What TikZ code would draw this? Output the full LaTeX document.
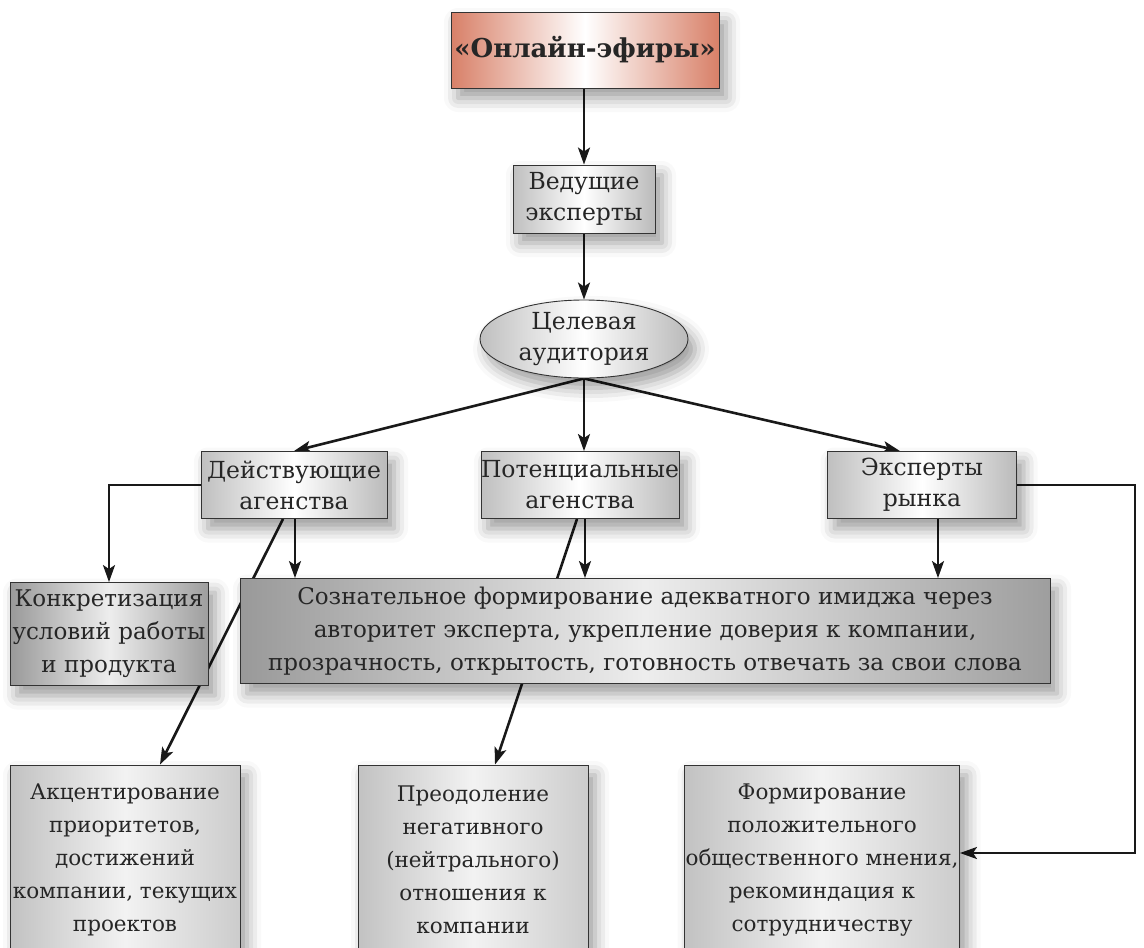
\documentclass[tikz,border=0pt]{standalone}
\usepackage{fontspec}
\setmainfont{DejaVu Serif}
\usetikzlibrary{arrows.meta,shapes.geometric,shadows.blur,calc}
\pgfdeclarelayer{bg}
\pgfsetlayers{bg,main}
\definecolor{salmon}{RGB}{216,128,104}
\begin{document}
\begin{tikzpicture}[x=1pt,y=-1pt,
  basebox/.style={draw=black!80, line width=0.9pt, align=center, inner xsep=0pt, inner ysep=1pt,
    font=\fontsize{23.5}{31}\selectfont, text=black!85,
    blur shadow={shadow xshift=7pt, shadow yshift=-10pt, shadow blur radius=14pt, shadow opacity=40}},
  graybox/.style={basebox, left color=black!25, right color=black!27, middle color=white},
  darkbox/.style={basebox, font=\fontsize{23}{33}\selectfont, left color=black!40, right color=black!38, middle color=black!7},
  lowbox/.style={basebox, font=\fontsize{21.5}{33}\selectfont, left color=black!24, right color=black!20, middle color=black!5},
  titlebox/.style={basebox, font=\fontsize{26}{32}\selectfont\bfseries, left color=salmon, right color=salmon, middle color=white},
  conn/.style={line width=2.6pt, draw=black!90},
  arr/.style={conn, -{Stealth[length=17pt,width=12pt,inset=4pt]}}
]
\useasboundingbox (0,0) rectangle (1144,948);

\node[titlebox, minimum width=268pt, minimum height=76pt] (top) at (585,50) {«Онлайн-эфиры»};
\node[graybox, minimum width=142pt, minimum height=68pt] (ved) at (584,199) {Ведущие\\эксперты};
\node[graybox, ellipse, minimum width=208pt, minimum height=78pt, inner sep=0pt] (ell) at (584,339) {Целевая\\аудитория};
\node[graybox, minimum width=186pt, minimum height=67pt] (deist) at (294,485) {Действующие\\агенства};
\node[graybox, minimum width=196pt, minimum height=67pt] (pot) at (580,485) {Потенциальные\\агенства};
\node[graybox, minimum width=189pt, minimum height=67pt] (eksp) at (922,485) {Эксперты\\рынка};
\node[darkbox, minimum width=198pt, minimum height=103pt] (konk) at (109,634) {Конкретизация\\условий работы\\и продукта};
\node[darkbox, minimum width=810pt, minimum height=105pt] (soz) at (645,631) {Сознательное формирование адекватного имиджа через\\авторитет эксперта, укрепление доверия к компании,\\прозрачность, открытость, готовность отвечать за свои слова};
\node[lowbox, minimum width=230pt, minimum height=190pt] (akc) at (125,860) {Акцентирование\\приоритетов,\\достижений\\компании, текущих\\проектов};
\node[lowbox, minimum width=230pt, minimum height=190pt] (pre) at (473,860) {Преодоление\\негативного\\(нейтрального)\\отношения к\\компании};
\node[lowbox, minimum width=275pt, minimum height=190pt] (form) at (822,860) {Формирование\\положительного\\общественного мнения,\\рекоминдация к\\сотрудничеству};

\begin{pgfonlayer}{bg}
\draw[arr] (top.south -| ved.north) -- (ved.north);
\draw[arr] (ved.south) -- (ell.north);
\draw[arr] (ell.south) -- (deist.north);
\draw[arr] (ell.south) -- (ell.south |- pot.north);
\draw[arr] (ell.south) -- ([xshift=-22pt]eksp.north);
\draw[arr] (deist.west) -| (konk.north);
\draw[arr] ([xshift=1pt]deist.south) -- ([xshift=1pt]deist.south |- soz.north);
\draw[arr] ([xshift=-11pt]deist.south) -- ([xshift=35pt]akc.north);
\draw[arr] ([xshift=5pt]pot.south) -- ([xshift=5pt]pot.south |- soz.north);
\draw[arr] ([xshift=-3pt]pot.south) -- ([xshift=22pt]pre.north);
\draw[arr] ([xshift=16pt]eksp.south) -- ([xshift=16pt]eksp.south |- soz.north);
\coordinate (rc) at (1135,485);
\draw[arr] (eksp.east) -- (rc) |- ([yshift=7pt]form.east);
\end{pgfonlayer}
\end{tikzpicture}
\end{document}
